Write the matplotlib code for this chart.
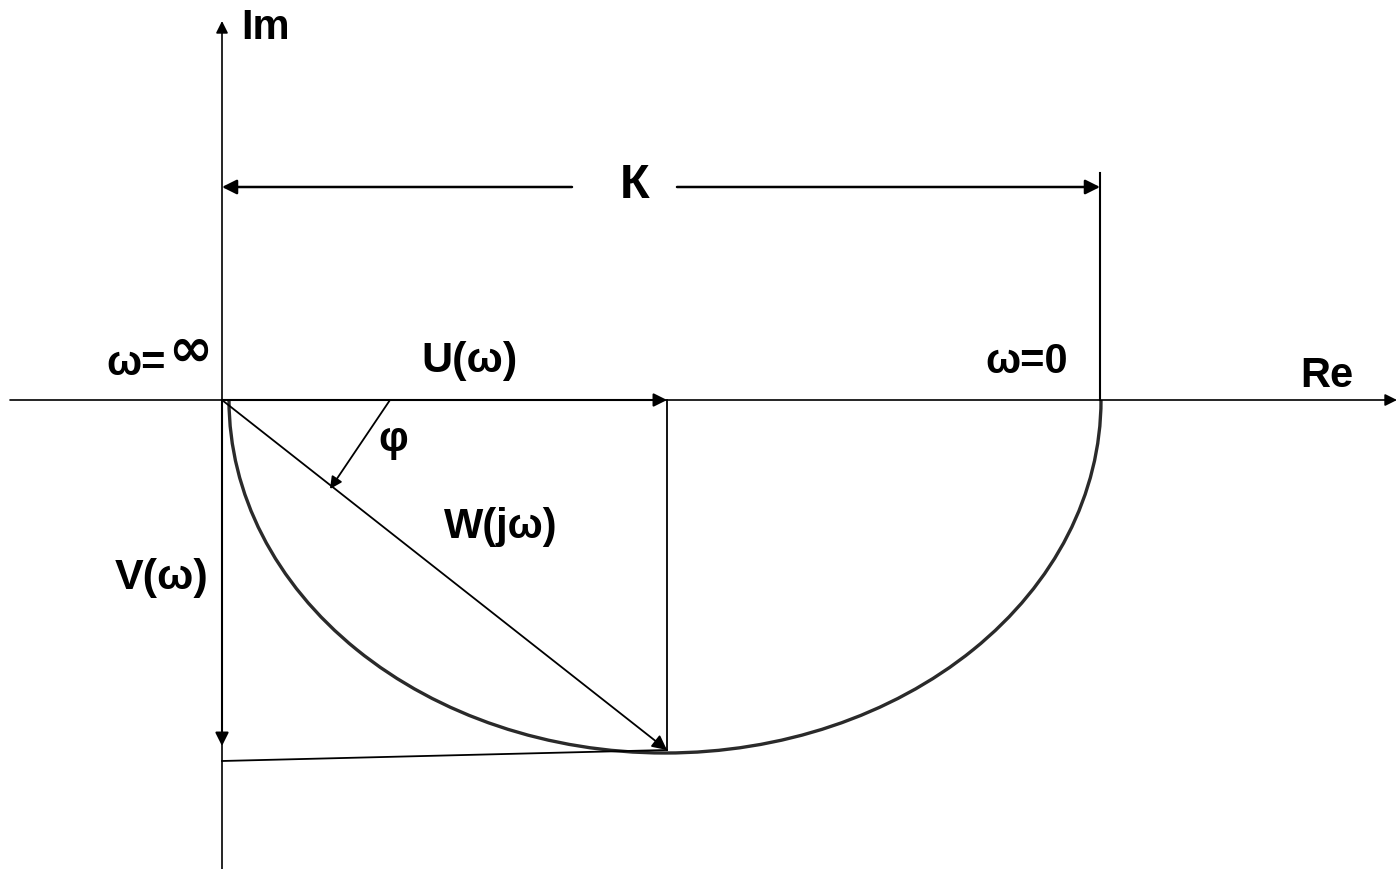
import matplotlib
matplotlib.use("Agg")
import matplotlib.pyplot as plt
from matplotlib.patches import Arc

plt.rcParams['font.family'] = ['Liberation Sans', 'DejaVu Sans']

# diagram values (pixel-like units, origin at ω=∞)
K = 878                 # gain, ω=0 point on Re axis
U = 445                 # U(ω) at chosen frequency
V = -350                # V(ω) at chosen frequency
V_mark = -361           # where the projection line meets the Im axis
ell_center = 443        # hodograph (semi-ellipse) centre on Re axis
ell_a = 436
ell_b = 353
phi_start = (168, 0)    # φ arrow
phi_end = (108, -89)
re_lim = (-212, 1175)
im_lim = (-469, 379)
k_line_y = 213
k_gap = (350, 455)

labels = {
    'Im': (44, 373, 30),
    'К': (413, 215, 35),
    'U(ω)': (247, 40, 31),
    'ω=0': (805, 39, 30),
    'Re': (1105, 25, 30),
    'φ': (171, -39, 30),
    'W(jω)': (279, -126, 30),
    'V(ω)': (-60, -177, 31),
}


def arrow(ax, start, end, lw=1.3, ms=22):
    ax.annotate('', xy=end, xytext=start,
                arrowprops=dict(arrowstyle='-|>', color='black', lw=lw,
                                mutation_scale=ms, shrinkA=0, shrinkB=0))


def main():
    fig = plt.figure(figsize=(13.97, 8.70), dpi=100)
    ax = fig.add_axes([0, 0, 1, 1])
    ax.set_xlim(-222, 1175)
    ax.set_ylim(-469, 401)
    ax.axis('off')

    # axes
    arrow(ax, (re_lim[0], 0), (re_lim[1], 0), lw=1.2, ms=18)
    arrow(ax, (0, im_lim[0]), (0, im_lim[1]), lw=1.2, ms=18)

    # hodograph
    ax.add_patch(Arc((ell_center, 0), 2 * ell_a, 2 * ell_b, theta1=180, theta2=360,
                     color='#2a2a2a', lw=2.4))

    # K dimension
    ax.plot([K, K], [0, 227], color='black', lw=1.5)
    arrow(ax, (k_gap[0], k_line_y), (0, k_line_y), lw=1.8, ms=22)
    arrow(ax, (k_gap[1], k_line_y), (K, k_line_y), lw=1.8, ms=22)

    # vector and its components
    arrow(ax, (0, 0), (U, 0), lw=1.5, ms=20)
    arrow(ax, (0, 0), (U, V), lw=1.3, ms=22)
    arrow(ax, (0, 0), (0, V + 4), lw=1.5, ms=20)
    ax.plot([U, U], [0, V], color='black', lw=1.3)
    ax.plot([0, U], [V_mark, V], color='black', lw=1.3)
    arrow(ax, phi_start, phi_end, lw=1.3, ms=18)

    for txt, (x, y, fs) in labels.items():
        ax.text(x, y, txt, fontsize=fs, fontweight='bold', ha='center', va='center')
    ax.text(-56, 37, 'ω=', fontsize=30, fontweight='bold', ha='right', va='center')
    ax.text(-32, 50, '∞', fontsize=38, fontweight='bold', ha='center', va='center',
            family=['DejaVu Sans'])

    fig.savefig('out.png', dpi=100)


if __name__ == '__main__':
    main()
